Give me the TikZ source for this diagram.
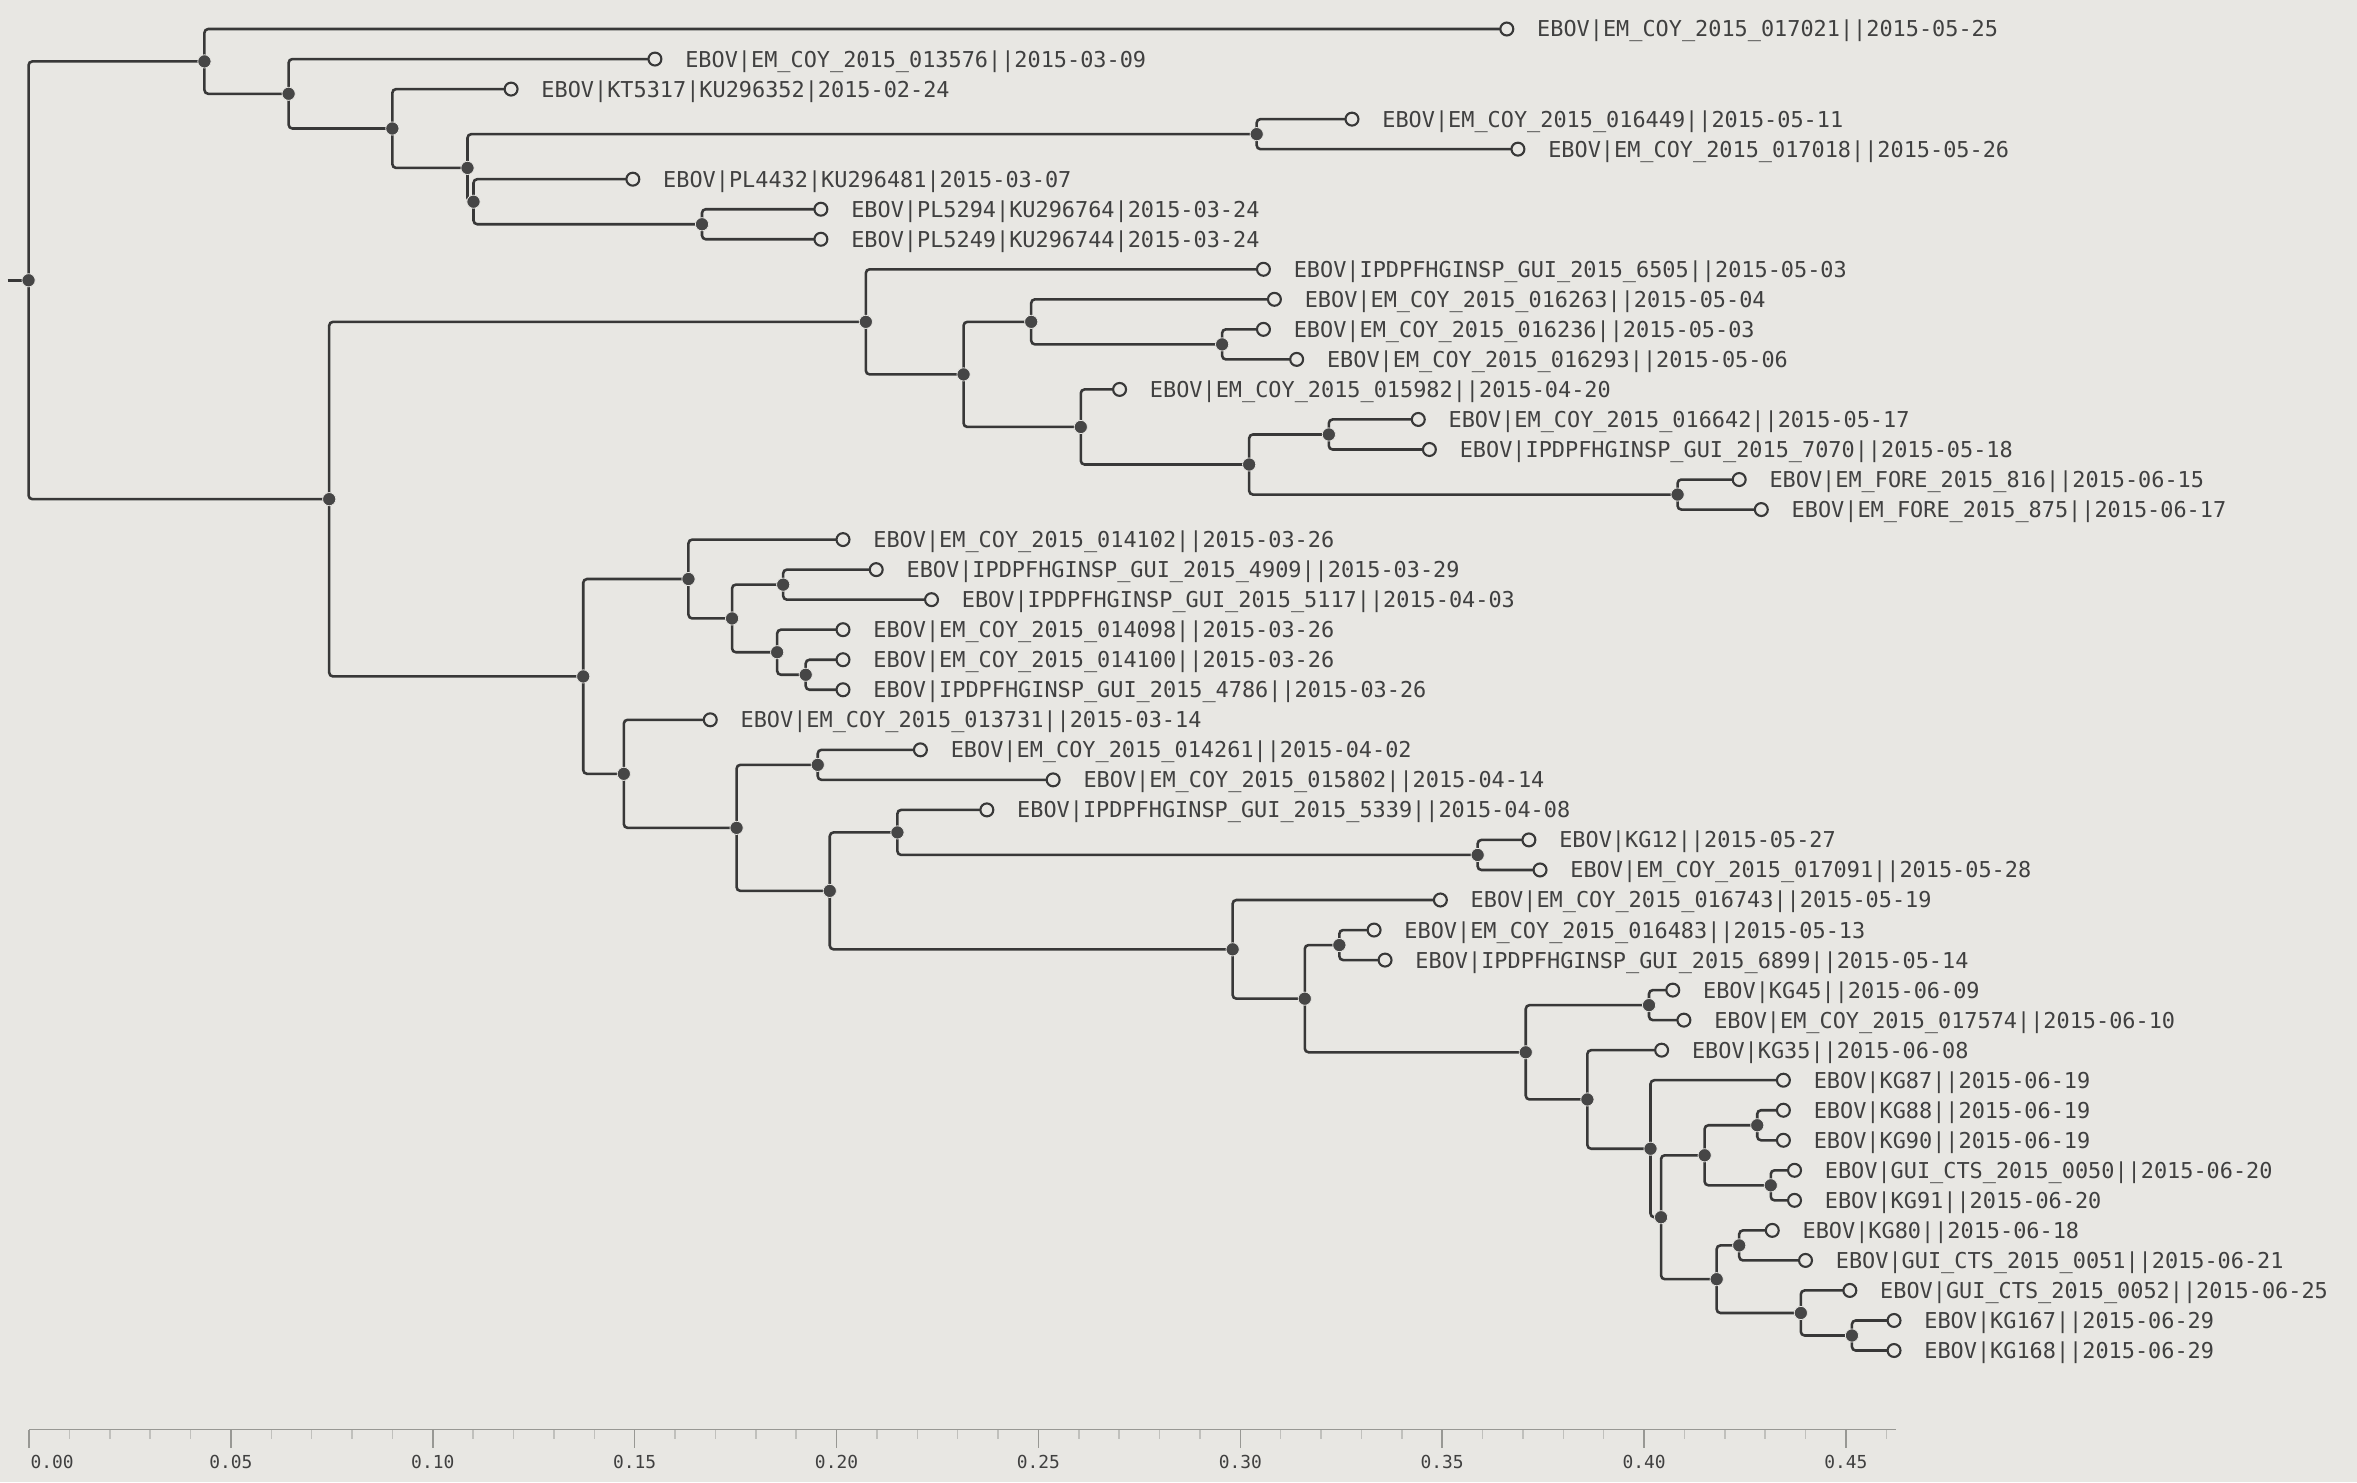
\documentclass[tikz,border=0pt]{standalone}
\usepackage{fontspec}
\newfontfamily\monof{DejaVu Sans Mono}
\definecolor{bgc}{RGB}{232,231,227}
\definecolor{ln}{RGB}{56,56,56}
\definecolor{dotc}{RGB}{70,70,70}
\definecolor{txt}{RGB}{64,64,64}
\definecolor{axc}{RGB}{152,152,148}
\definecolor{mtick}{RGB}{192,192,188}
\pgfdeclarelayer{background}
\pgfdeclarelayer{edges}
\pgfsetlayers{background,edges,main}
\begin{document}
\begin{tikzpicture}[x=1pt,y=-1pt,
  innern/.style={circle,fill=dotc,draw=bgc,line width=0.5pt,minimum size=8.8pt,inner sep=0pt},
  tipn/.style={circle,fill=bgc,draw=ln,line width=1.4pt,minimum size=8.6pt,inner sep=0pt},
  lbl/.style={anchor=base west,xshift=20pt,yshift=-5.3pt,inner sep=0pt,text=txt,font=\monof\fontsize{14.55}{17}\selectfont},
  br/.style={draw=ln,line width=1.7pt,rounded corners=2.5pt},
  axl/.style={inner sep=0pt,text=txt,font=\monof\fontsize{11.9}{14}\selectfont}]
\begin{pgfonlayer}{background}
\fill[bgc] (0,0) rectangle (1568,986);
\end{pgfonlayer}
\useasboundingbox (0,0) rectangle (1568,986);
\begin{scope}[yshift=-19.3pt,y=-19.98pt]
% internal nodes
\node[innern] (R0) at (19,8.365509) {};
\node[innern] (A) at (136,1.078125) {};
\node[innern] (C) at (192,2.15625) {};
\node[innern] (D) at (261,3.3125) {};
\node[innern] (E) at (311,4.625) {};
\node[innern] (F) at (836,3.5) {};
\node[innern] (G) at (315,5.75) {};
\node[innern] (H) at (467,6.5) {};
\node[innern] (B) at (219,15.652893) {};
\node[innern] (I) at (576,9.75) {};
\node[innern] (K) at (641,11.5) {};
\node[innern] (L) at (686,9.75) {};
\node[innern] (N) at (813,10.5) {};
\node[innern] (M) at (719,13.25) {};
\node[innern] (O) at (831,14.5) {};
\node[innern] (P) at (884,13.5) {};
\node[innern] (Q) at (1116,15.5) {};
\node[innern] (J) at (388,21.555786) {};
\node[innern] (Rr) at (458,18.3125) {};
\node[innern] (T) at (487,19.625) {};
\node[innern] (U) at (521,18.5) {};
\node[innern] (V) at (517,20.75) {};
\node[innern] (W) at (536,21.5) {};
\node[innern] (S) at (415,24.799072) {};
\node[innern] (X) at (490,26.598145) {};
\node[innern] (Y) at (544,24.5) {};
\node[innern] (Z) at (552,28.696289) {};
\node[innern] (AA) at (597,26.75) {};
\node[innern] (AC) at (983,27.5) {};
\node[innern] (AB) at (820,30.642578) {};
\node[innern] (AD) at (868,32.285156) {};
\node[innern] (AE) at (891,30.5) {};
\node[innern] (AF) at (1015,34.070313) {};
\node[innern] (AG) at (1097,32.5) {};
\node[innern] (AH) at (1056,35.640625) {};
\node[innern] (AI) at (1098,37.28125) {};
\node[innern] (AJ) at (1105,39.5625) {};
\node[innern] (AK) at (1134,37.5) {};
\node[innern] (AM) at (1169,36.5) {};
\node[innern] (AN) at (1178,38.5) {};
\node[innern] (AL) at (1142,41.625) {};
\node[innern] (AO) at (1157,40.5) {};
\node[innern] (AP) at (1198,42.75) {};
\node[innern] (AQ) at (1232,43.5) {};
\coordinate (stub) at (5,8.365509);
% tips and labels
\foreach \i/\x/\t in {
 0/1002.4/EBOV|EM\_COY\_2015\_017021||2015-05-25,
 1/435.7/EBOV|EM\_COY\_2015\_013576||2015-03-09,
 2/340/EBOV|KT5317|KU296352|2015-02-24,
 3/899.4/EBOV|EM\_COY\_2015\_016449||2015-05-11,
 4/1009.8/EBOV|EM\_COY\_2015\_017018||2015-05-26,
 5/421/EBOV|PL4432|KU296481|2015-03-07,
 6/546.1/EBOV|PL5294|KU296764|2015-03-24,
 7/546.1/EBOV|PL5249|KU296744|2015-03-24,
 8/840.5/EBOV|IPDPFHGINSP\_GUI\_2015\_6505||2015-05-03,
 9/847.8/EBOV|EM\_COY\_2015\_016263||2015-05-04,
 10/840.5/EBOV|EM\_COY\_2015\_016236||2015-05-03,
 11/862.6/EBOV|EM\_COY\_2015\_016293||2015-05-06,
 12/744.8/EBOV|EM\_COY\_2015\_015982||2015-04-20,
 13/943.5/EBOV|EM\_COY\_2015\_016642||2015-05-17,
 14/950.9/EBOV|IPDPFHGINSP\_GUI\_2015\_7070||2015-05-18,
 15/1157/EBOV|EM\_FORE\_2015\_816||2015-06-15,
 16/1171.7/EBOV|EM\_FORE\_2015\_875||2015-06-17,
 17/560.8/EBOV|EM\_COY\_2015\_014102||2015-03-26,
 18/582.9/EBOV|IPDPFHGINSP\_GUI\_2015\_4909||2015-03-29,
 19/619.7/EBOV|IPDPFHGINSP\_GUI\_2015\_5117||2015-04-03,
 20/560.8/EBOV|EM\_COY\_2015\_014098||2015-03-26,
 21/560.8/EBOV|EM\_COY\_2015\_014100||2015-03-26,
 22/560.8/EBOV|IPDPFHGINSP\_GUI\_2015\_4786||2015-03-26,
 23/472.5/EBOV|EM\_COY\_2015\_013731||2015-03-14,
 24/612.3/EBOV|EM\_COY\_2015\_014261||2015-04-02,
 25/700.6/EBOV|EM\_COY\_2015\_015802||2015-04-14,
 26/656.5/EBOV|IPDPFHGINSP\_GUI\_2015\_5339||2015-04-08,
 27/1017.1/EBOV|KG12||2015-05-27,
 28/1024.5/EBOV|EM\_COY\_2015\_017091||2015-05-28,
 29/958.2/EBOV|EM\_COY\_2015\_016743||2015-05-19,
 30/914.1/EBOV|EM\_COY\_2015\_016483||2015-05-13,
 31/921.4/EBOV|IPDPFHGINSP\_GUI\_2015\_6899||2015-05-14,
 32/1112.8/EBOV|KG45||2015-06-09,
 33/1120.2/EBOV|EM\_COY\_2015\_017574||2015-06-10,
 34/1105.4/EBOV|KG35||2015-06-08,
 35/1186.4/EBOV|KG87||2015-06-19,
 36/1186.4/EBOV|KG88||2015-06-19,
 37/1186.4/EBOV|KG90||2015-06-19,
 38/1193.8/EBOV|GUI\_CTS\_2015\_0050||2015-06-20,
 39/1193.8/EBOV|KG91||2015-06-20,
 40/1179/EBOV|KG80||2015-06-18,
 41/1201.1/EBOV|GUI\_CTS\_2015\_0051||2015-06-21,
 42/1230.6/EBOV|GUI\_CTS\_2015\_0052||2015-06-25,
 43/1260/EBOV|KG167||2015-06-29,
 44/1260/EBOV|KG168||2015-06-29}
{
 \node[tipn] (t\i) at (\x,\i) {};
 \node[lbl] (l\i) at (t\i.center) {\t};
}
\begin{pgfonlayer}{edges}
\draw[br] (stub) -- (R0.center);
\foreach \p/\c in {R0/A,R0/B,A/t0,A/C,C/t1,C/D,D/t2,D/E,E/F,E/G,F/t3,F/t4,G/t5,G/H,H/t6,H/t7,
 B/I,B/J,I/t8,I/K,K/L,K/M,L/t9,L/N,N/t10,N/t11,M/t12,M/O,O/P,O/Q,P/t13,P/t14,Q/t15,Q/t16,
 J/Rr,J/S,Rr/t17,Rr/T,T/U,T/V,U/t18,U/t19,V/t20,V/W,W/t21,W/t22,
 S/t23,S/X,X/Y,X/Z,Y/t24,Y/t25,Z/AA,Z/AB,AA/t26,AA/AC,AC/t27,AC/t28,
 AB/t29,AB/AD,AD/AE,AD/AF,AE/t30,AE/t31,AF/AG,AF/AH,AG/t32,AG/t33,AH/t34,AH/AI,
 AI/t35,AI/AJ,AJ/AK,AJ/AL,AK/AM,AK/AN,AM/t36,AM/t37,AN/t38,AN/t39,
 AL/AO,AL/AP,AO/t40,AO/t41,AP/t42,AP/AQ,AQ/t43,AQ/t44}
 \draw[br] (\p.center) |- (\c.center);
\end{pgfonlayer}
\end{scope}
% axis
\foreach \i in {1,...,46}
 \draw[mtick,line width=1pt] ({19.3+26.86*\i},951) -- ++(0,6.6);
\foreach \i in {0,...,9}
 \draw[axc,line width=1pt] ({19.3+134.3*\i},951) -- ++(0,12);
\draw[axc,line width=1pt] (19.3,951) -- (1261,951);
\node[axl,anchor=base west] (a0) at (20.2,976.8) {0.00};
\foreach \i/\t in {1/0.05,2/0.10,3/0.15,4/0.20,5/0.25,6/0.30,7/0.35,8/0.40,9/0.45}
 \node[axl,anchor=base] (a\i) at ({19.3+134.3*\i},976.8) {\t};
\end{tikzpicture}
\end{document}
